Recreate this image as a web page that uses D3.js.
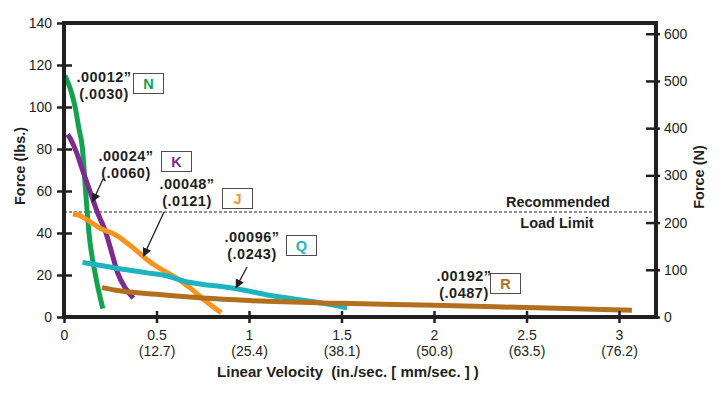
<!DOCTYPE html>
<html>
<head>
<meta charset="utf-8">
<script src="https://cdn.jsdelivr.net/npm/d3@7"></script>
<style>
  body { margin: 0; background: #fff; }
  text { font-family: "Liberation Sans", Arial, Helvetica, sans-serif; fill: #231f20; }
  .lbl { font-weight: bold; font-size: 15px; }
  .note { font-weight: bold; font-size: 14.5px; }
  .ttl { font-weight: bold; font-size: 14.5px; }
  .tick text { font-size: 14px; }
</style>
</head>
<body>
<div id="graph"></div>
<script>
// series values: [in./sec., lbs]
const seriesN = [[0.005,115],[0.02,112],[0.04,107],[0.06,100],[0.08,90],[0.10,80],[0.115,62],[0.135,40],[0.17,20],[0.21,4]];
const seriesK = [[0.02,87],[0.04,84],[0.065,79],[0.10,70],[0.14,60],[0.18,50],[0.227,40],[0.26,30],[0.29,21],[0.33,14],[0.375,9]];
const seriesJ = [[0.048,49],[0.08,48.5],[0.13,46],[0.2,42],[0.27,39.5],[0.33,36],[0.4,31],[0.46,26.5],[0.52,23],[0.6,19],[0.68,14],[0.76,8],[0.85,2]];
const seriesQ = [[0.1,26],[0.2,24.5],[0.3,23],[0.45,21],[0.56,19.5],[0.65,17],[0.75,15.5],[0.85,14.5],[0.99,12.5],[1.1,10.5],[1.25,8.5],[1.4,6.5],[1.53,4.3]];
const seriesR = [[0.205,14],[0.3,12.5],[0.5,10.8],[0.75,9],[1,7.8],[1.5,6.5],[2,5.6],[2.5,4.5],[3.07,3.2]];

const seriesNames = ["N", "K", "J", "Q", "R"];
const clearances = [".00012\u201D", ".00024\u201D", ".00048\u201D", ".00096\u201D", ".00192\u201D"];
const clearancesMm = ["(.0030)", "(.0060)", "(.0121)", "(.0243)", "(.0487)"];

const xTicks = [0, 0.5, 1, 1.5, 2, 2.5, 3];
const xTicksMm = ["", "(12.7)", "(25.4)", "(38.1)", "(50.8)", "(63.5)", "(76.2)"];
const yTicks = [0, 20, 40, 60, 80, 100, 120, 140];
const yTicksN = [0, 100, 200, 300, 400, 500, 600];
const loadLimit = 50;

const colors = ["#12a250", "#7e2b8f", "#f7941d", "#1db4c0", "#b2701e"];

// label placement (pixels) and arrow tips (data)
const notes = [
  { tx: 104, ty: 82, bx: 133, by: 73, arrow: null },
  { tx: 126, ty: 161, bx: 161, by: 151, arrow: { from: [103, 179], to: [0.155, 55] } },
  { tx: 187, ty: 189, bx: 222, by: 188, arrow: { from: [164, 212], to: [0.43, 29] } },
  { tx: 252, ty: 242, bx: 286, by: 235, arrow: { from: [247, 267], to: [0.93, 14] } },
  { tx: 464, ty: 281, bx: 490, by: 273, arrow: null }
];

const W = 721, H = 393;
const mLeft = 64, mRight = 656, mTop = 23, mBottom = 317;

const svg = d3.select("#graph").append("svg")
  .attr("width", W).attr("height", H);

const x = d3.scaleLinear().domain([0, 3.2]).range([mLeft, mRight]);
const y = d3.scaleLinear().domain([0, 140]).range([mBottom, mTop]);
const yN = d3.scaleLinear().domain([0, 140 * 4.448]).range([mBottom, mTop]);

svg.append("defs").append("marker")
  .attr("id", "arr")
  .attr("viewBox", "0 0 10 10")
  .attr("refX", 9).attr("refY", 5)
  .attr("markerWidth", 9).attr("markerHeight", 9)
  .attr("markerUnits", "userSpaceOnUse")
  .attr("orient", "auto")
  .append("path").attr("d", "M0,0L10,5L0,10z").attr("fill", "#231f20");

// recommended load limit
svg.append("line")
  .attr("x1", mLeft).attr("x2", mRight)
  .attr("y1", y(loadLimit)).attr("y2", y(loadLimit))
  .attr("stroke", "#231f20").attr("stroke-width", 1)
  .attr("stroke-dasharray", "3,2");
svg.append("text").attr("class", "ttl")
  .attr("x", 558).attr("y", y(loadLimit) - 5)
  .attr("text-anchor", "middle").text("Recommended");
svg.append("text").attr("class", "ttl")
  .attr("x", 557).attr("y", y(loadLimit) + 16)
  .attr("text-anchor", "middle").text("Load Limit");

// curves
const line = d3.line()
  .x(d => x(d[0])).y(d => y(d[1]))
  .curve(d3.curveMonotoneX);

const allSeries = [seriesN, seriesK, seriesJ, seriesQ, seriesR];
svg.append("g").selectAll("path")
  .data(allSeries)
  .enter().append("path")
  .attr("d", line)
  .attr("fill", "none")
  .attr("stroke", (d, i) => colors[i])
  .attr("stroke-width", 5);

// frame
svg.append("line")
  .attr("x1", mLeft - 2).attr("x2", mRight + 2).attr("y1", mTop).attr("y2", mTop)
  .attr("stroke", "#231f20").attr("stroke-width", 4);

// axes
const xAxis = svg.append("g")
  .attr("transform", "translate(0," + mBottom + ")")
  .call(d3.axisBottom(x).tickValues(xTicks).tickSize(6).tickFormat(""));
xAxis.select(".domain").attr("stroke-width", 4).attr("stroke", "#231f20")
  .attr("d", "M" + (mLeft - 2) + ",0H" + (mRight + 2));
xAxis.selectAll(".tick line").attr("y1", -6).attr("y2", 6).attr("stroke-width", 2.5).attr("stroke", "#231f20");
xAxis.selectAll(".tick").append("text")
  .attr("y", 23).attr("text-anchor", "middle")
  .text(d => d);
xAxis.selectAll(".tick").append("text")
  .attr("y", 39).attr("text-anchor", "middle")
  .text((d, i) => xTicksMm[i]);

const yAxis = svg.append("g")
  .attr("transform", "translate(" + mLeft + ",0)")
  .call(d3.axisLeft(y).tickValues(yTicks).tickSize(7).tickPadding(5));
yAxis.select(".domain").attr("stroke-width", 4).attr("stroke", "#231f20")
  .attr("d", "M0," + (mTop - 2) + "V" + (mBottom + 2));
yAxis.selectAll(".tick line").attr("x1", -7).attr("x2", 8).attr("stroke-width", 2.5).attr("stroke", "#231f20");

const yAxisR = svg.append("g")
  .attr("transform", "translate(" + mRight + ",0)")
  .call(d3.axisRight(yN).tickValues(yTicksN).tickSize(4).tickPadding(4));
yAxisR.select(".domain").attr("stroke-width", 4).attr("stroke", "#231f20")
  .attr("d", "M0," + (mTop - 2) + "V" + (mBottom + 2));
yAxisR.selectAll(".tick line").attr("x1", -10).attr("x2", 4).attr("stroke-width", 2.5).attr("stroke", "#231f20");

svg.selectAll("g").attr("font-family", null).attr("font-size", null);

// axis titles
svg.append("text").attr("class", "lbl")
  .attr("x", 348).attr("y", 377).attr("text-anchor", "middle")
  .attr("xml:space", "preserve")
  .text("Linear Velocity  (in./sec. [ mm/sec. ] )");
svg.append("text").attr("class", "ttl")
  .attr("transform", "translate(25,166) rotate(-90)")
  .attr("text-anchor", "middle").text("Force (lbs.)");
svg.append("text").attr("class", "ttl")
  .attr("transform", "translate(704,177) rotate(-90)")
  .attr("text-anchor", "middle").text("Force (N)");

// clearance notes
notes.forEach((n, i) => {
  const g = svg.append("g");
  g.append("text").attr("class", "note")
    .attr("x", n.tx).attr("y", n.ty).attr("text-anchor", "middle")
    .attr("letter-spacing", "0.5px")
    .text(clearances[i]);
  g.append("text").attr("class", "note")
    .attr("x", n.tx).attr("y", n.ty + 16.5).attr("text-anchor", "middle")
    .attr("letter-spacing", "0.5px")
    .text(clearancesMm[i]);
  g.append("rect")
    .attr("x", n.bx + 0.5).attr("y", n.by + 0.5)
    .attr("width", 30).attr("height", 20)
    .attr("fill", "#fff").attr("stroke", "#4d4d4f").attr("stroke-width", 1);
  g.append("text").attr("class", "ttl")
    .attr("x", n.bx + 15.5).attr("y", n.by + 16)
    .attr("text-anchor", "middle")
    .style("fill", colors[i])
    .text(seriesNames[i]);
  if (n.arrow) {
    g.append("line")
      .attr("x1", n.arrow.from[0]).attr("y1", n.arrow.from[1])
      .attr("x2", x(n.arrow.to[0])).attr("y2", y(n.arrow.to[1]))
      .attr("stroke", "#231f20").attr("stroke-width", 1.3)
      .attr("marker-end", "url(#arr)");
  }
});
</script>
</body>
</html>
